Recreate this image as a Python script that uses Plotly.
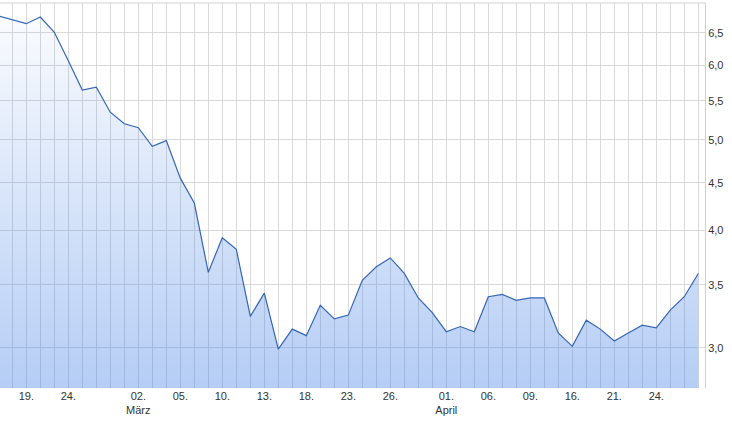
import math
import plotly.graph_objects as go

# Trading days (Feb 17 2020 .. Apr 29 2020)
dates = [
    "2020-02-17", "2020-02-18", "2020-02-19", "2020-02-20", "2020-02-21",
    "2020-02-24", "2020-02-25", "2020-02-26", "2020-02-27", "2020-02-28",
    "2020-03-02", "2020-03-03", "2020-03-04", "2020-03-05", "2020-03-06",
    "2020-03-09", "2020-03-10", "2020-03-11", "2020-03-12", "2020-03-13",
    "2020-03-16", "2020-03-17", "2020-03-18", "2020-03-19", "2020-03-20",
    "2020-03-23", "2020-03-24", "2020-03-25", "2020-03-26", "2020-03-27",
    "2020-03-30", "2020-03-31", "2020-04-01", "2020-04-02", "2020-04-03",
    "2020-04-06", "2020-04-07", "2020-04-08", "2020-04-09", "2020-04-14",
    "2020-04-15", "2020-04-16", "2020-04-17", "2020-04-20", "2020-04-21",
    "2020-04-22", "2020-04-23", "2020-04-24", "2020-04-27", "2020-04-28",
    "2020-04-29",
]

prices = [
    6.78, 6.71, 6.65, 6.76, 6.51, 6.07, 5.65, 5.69, 5.35, 5.20,
    5.15, 4.92, 4.99, 4.55, 4.28, 3.61, 3.93, 3.82, 3.24, 3.43,
    2.99, 3.14, 3.09, 3.33, 3.22, 3.25, 3.54, 3.66, 3.74, 3.60,
    3.39, 3.27, 3.12, 3.16, 3.12, 3.40, 3.42, 3.37, 3.39, 3.39,
    3.11, 3.01, 3.21, 3.14, 3.05, 3.11, 3.17, 3.15, 3.29, 3.40,
    3.60,
]

tick_dates = ["2020-02-19", "2020-02-24", "2020-03-02", "2020-03-05", "2020-03-10",
              "2020-03-13", "2020-03-18", "2020-03-23", "2020-03-26", "2020-04-01",
              "2020-04-06", "2020-04-09", "2020-04-16", "2020-04-21", "2020-04-24"]
tick_labels = ["19.", "24.", "02.<br>März", "05.", "10.",
               "13.", "18.", "23.", "26.", "01.<br>April",
               "06.", "09.", "16.", "21.", "24."]

y_ticks = [3.0, 3.5, 4.0, 4.5, 5.0, 5.5, 6.0, 6.5]
y_min, y_max = 2.717, 6.997

idx = list(range(len(dates)))
label_map = dict(zip(tick_dates, tick_labels))
ticktext = [label_map.get(d, "") for d in dates]

fig = go.Figure()
fig.add_trace(go.Scatter(
    x=idx, y=[y_min] * len(idx), mode="lines",
    line=dict(width=0, color="rgba(0,0,0,0)"),
    showlegend=False, hoverinfo="skip",
))
fig.add_trace(go.Scatter(
    x=idx, y=prices, mode="lines",
    line=dict(color="#3566b4", width=1.2),
    fill="tonexty",
    fillgradient=dict(
        type="vertical",
        colorscale=[[0, "rgba(70,130,230,0.40)"], [1, "rgba(70,130,230,0.03)"]],
    ),
    showlegend=False,
))

fig.add_shape(type="line", xref="paper", yref="paper", x0=0, x1=1, y0=1, y1=1,
              line=dict(color="#d0d0d0", width=1))

fig.update_layout(
    width=732, height=421,
    margin=dict(l=0, r=27, t=3, b=33, autoexpand=False),
    paper_bgcolor="white", plot_bgcolor="white",
    separators=",.",
    font=dict(family="Liberation Sans, Arial, sans-serif", size=11, color="#333333"),
    xaxis=dict(
        range=[0.121, 50.48],
        tickmode="array", tickvals=idx, ticktext=ticktext,
        showgrid=True, gridcolor="#d9d9d9", gridwidth=1,
        zeroline=False, showline=False, ticks="",
        automargin=False,
        tickfont=dict(size=11, color="#333333"),
    ),
    yaxis=dict(
        type="log",
        range=[math.log10(y_min), math.log10(y_max)],
        side="right",
        tickmode="array", tickvals=y_ticks, tickformat=".1f",
        showgrid=True, gridcolor="#d9d9d9", gridwidth=1,
        zeroline=False, showline=True, linecolor="#d0d0d0", linewidth=1,
        ticks="", automargin=False,
        tickfont=dict(size=11, color="#333333"),
    ),
)

fig.write_html(
    "out.html",
    config={"displayModeBar": False},
    post_script="document.body.style.margin='0';document.body.style.overflow='hidden';",
)
